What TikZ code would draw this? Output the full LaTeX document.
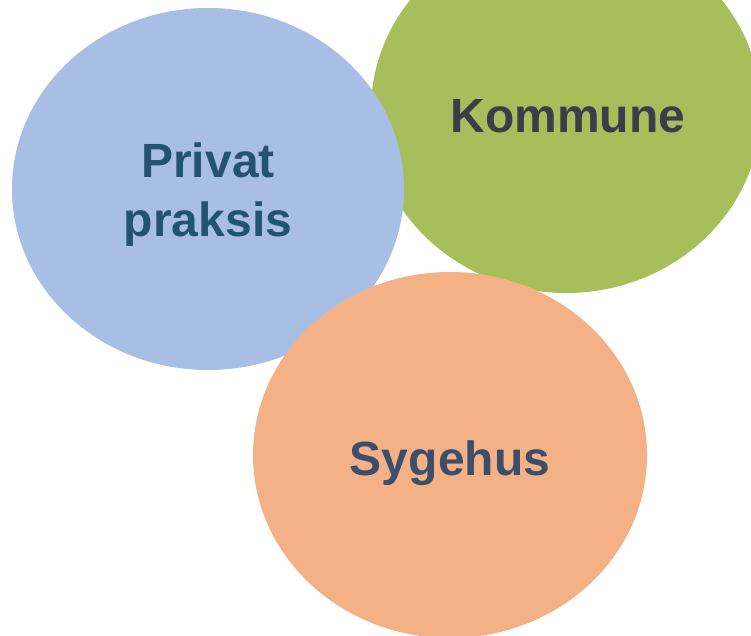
\documentclass[tikz,border=0pt]{standalone}
\usepackage{fontspec}
\setmainfont{Liberation Sans}
\usetikzlibrary{shapes.geometric,positioning}
\definecolor{kommunegreen}{HTML}{A7BF5B}
\definecolor{praksisblue}{HTML}{A9BEE4}
\definecolor{sygehusorange}{HTML}{F3B185}
\definecolor{praksistext}{HTML}{23536F}
\definecolor{kommunetext}{HTML}{383E4A}
\definecolor{sygehustext}{HTML}{3B4E6B}
\tikzstyle{blob} = [ellipse, inner sep=0pt, draw=none]
\tikzstyle{blobtext} = [anchor=base, font=\fontsize{48}{58}\selectfont\bfseries, align=center]

\begin{document}
\begin{tikzpicture}[x=1pt, y=-1pt]
	\useasboundingbox (0,0) rectangle (751,636);
	% Place circles
	\node [blob, fill=kommunegreen, minimum width=390pt, minimum height=366pt] (kommune) at (566,110) {};
	\node [blob, fill=praksisblue, minimum width=392pt, minimum height=362pt] (praksis) at (208,189) {};
	\node [blob, fill=sygehusorange, minimum width=394pt, minimum height=366pt] (sygehus) at (450,455) {};
	
	% Labels
	\node [blobtext, text=kommunetext] (kommunelabel) at (568,133) {Kommune};
	\node [blobtext, text=praksistext] (praksislabel1) at (208,178) {Privat};
	\node [blobtext, text=praksistext] (praksislabel2) at (208,236) {praksis};
	\node [blobtext, text=sygehustext] (sygehuslabel) at (450,475) {Sygehus};
\end{tikzpicture}
\end{document}
